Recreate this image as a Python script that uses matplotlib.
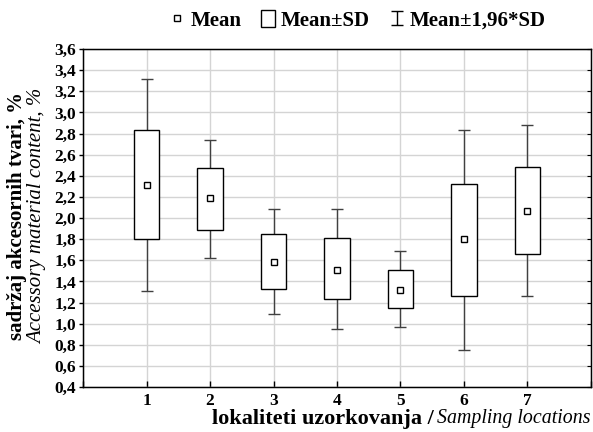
import numpy as np
import matplotlib
matplotlib.use("Agg")
import matplotlib.pyplot as plt
from matplotlib.lines import Line2D
from matplotlib.patches import Patch
from matplotlib.path import Path
from matplotlib.ticker import FuncFormatter

plt.rcParams['font.family'] = ['Liberation Serif', 'DejaVu Serif']

locations = [1, 2, 3, 4, 5, 6, 7]
means = [2.31, 2.19, 1.58, 1.51, 1.32, 1.80, 2.07]
sd_low = [1.80, 1.89, 1.33, 1.23, 1.15, 1.26, 1.66]
sd_high = [2.83, 2.47, 1.85, 1.81, 1.51, 2.32, 2.48]
ci_low = [1.31, 1.62, 1.09, 0.95, 0.97, 0.75, 1.26]
ci_high = [3.32, 2.74, 2.09, 2.09, 1.69, 2.83, 2.88]

x = np.array(locations)
m = np.array(means)
lo = np.array(sd_low)
hi = np.array(sd_high)
wlo = np.array(ci_low)
whi = np.array(ci_high)

fig = plt.figure(figsize=(5.93, 4.32), dpi=100)
ax = fig.add_axes([0.14, 0.104, 0.8566, 0.7826])

ax.errorbar(x, m, yerr=[m - wlo, whi - m], fmt='none', ecolor='#404040',
            elinewidth=1, capsize=4.5, capthick=1, zorder=2)
ax.bar(x, hi - lo, bottom=lo, width=0.4, color='white', edgecolor='black',
       linewidth=1, zorder=3)
ax.plot(x, m, 's', ms=4.5, mfc='white', mec='black', mew=1, zorder=4)

ax.set_xlim(0, 8)
ax.set_ylim(0.4, 3.6)
ax.set_xticks(range(0, 9))
ax.set_xticklabels([''] + [str(v) for v in locations] + [''])
ax.set_yticks(np.arange(0.4, 3.61, 0.2))
ax.yaxis.set_major_formatter(FuncFormatter(lambda v, p: ('%.1f' % v).replace('.', ',')))
ax.grid(True, color='#d4d4d4', linewidth=1)
ax.set_axisbelow(True)
ax.tick_params(axis='x', direction='in', length=4, width=1, labelsize=12.5, pad=4)
ax.tick_params(axis='y', direction='out', length=3, width=1, labelsize=12.5, pad=2)
for lab in ax.get_xticklabels() + ax.get_yticklabels():
    lab.set_fontweight('bold')
for s in ax.spines.values():
    s.set_linewidth(1)

# ticks on the right side, pointing inward
ax2 = ax.twinx()
ax2.set_ylim(ax.get_ylim())
ax2.set_yticks(ax.get_yticks())
ax2.tick_params(axis='y', direction='in', length=3, labelright=False)

fig.text(17 / 593, 0.5, 'sadržaj akcesornih tvari, %', rotation=90,
         ha='center', va='center', fontsize=15, fontweight='bold')
fig.text(38 / 593, 0.5, 'Accessory material content, %', rotation=90,
         ha='center', va='center', fontsize=15, style='italic')

fig.text(434 / 593, 1 - 419 / 432, 'lokaliteti uzorkovanja /', ha='right',
         va='center', fontsize=16, fontweight='bold')
fig.text(437 / 593, 1 - 419 / 432, 'Sampling locations', ha='left',
         va='center', fontsize=14.3, style='italic')

ibeam = Path([(-0.4, 0.5), (0.4, 0.5), (0, 0.5), (0, -0.5), (-0.4, -0.5), (0.4, -0.5)],
             [Path.MOVETO, Path.LINETO, Path.MOVETO, Path.LINETO,
              Path.MOVETO, Path.LINETO])
handles = [
    Line2D([], [], ls='none', marker='s', ms=5, mfc='white', mec='black', mew=1),
    Patch(facecolor='white', edgecolor='black', linewidth=1),
    Line2D([], [], ls='none', marker=ibeam, ms=10, mec='black', mew=1),
]
labels = ['Mean', 'Mean±SD', 'Mean±1,96*SD']
leg = fig.legend(handles, labels, loc='center', bbox_to_anchor=(0.604, 0.952),
                 ncol=3, frameon=False, handlelength=0.65, handleheight=0.85,
                 handletextpad=0.3, columnspacing=0.95, borderpad=0,
                 prop={'weight': 'bold', 'size': 15})

fig.savefig('out.png', dpi=100)
